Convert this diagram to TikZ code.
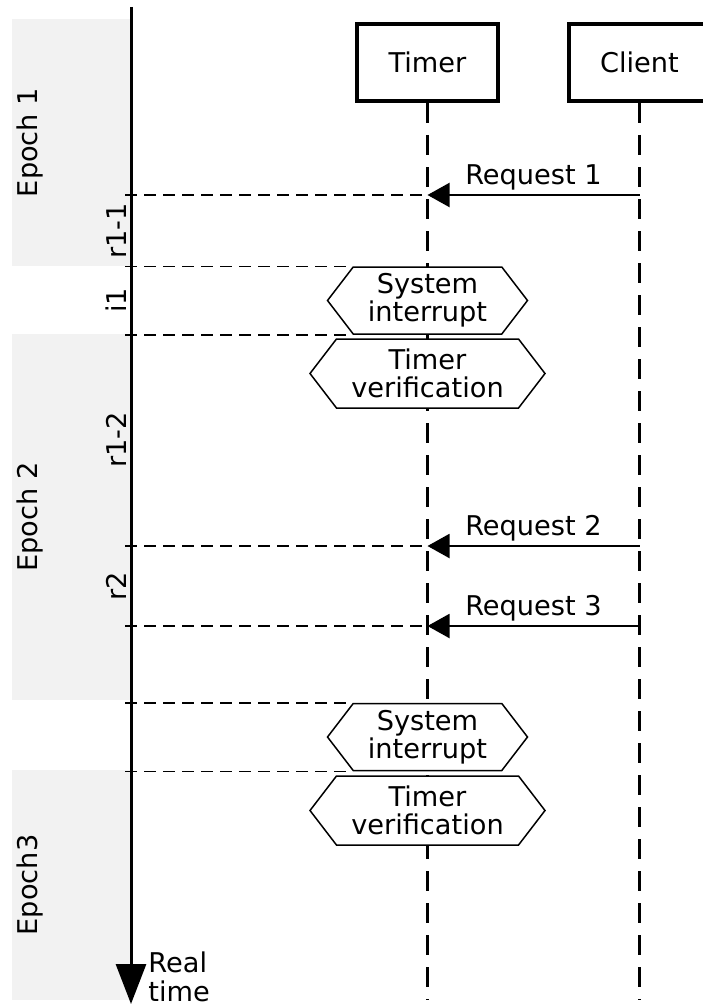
\documentclass[tikz,border=0pt]{standalone}
\usepackage{fontspec}
\setmainfont{DejaVu Sans}
\usetikzlibrary{arrows.meta,shapes.symbols,calc}
\definecolor{bandgray}{RGB}{242,242,242}
\pgfdeclarelayer{back}
\pgfsetlayers{back,main}

\begin{document}
\begin{tikzpicture}[x=0.5pt, y=-0.5pt,
	every node/.style={font=\fontsize{13.6}{14.2}\selectfont},
	actor/.style={draw, line width=2pt, minimum width=70.5pt, minimum height=38.5pt},
	lifeline/.style={line width=1.1pt, dash pattern=on 10pt off 6pt},
	guide/.style={line width=0.75pt, dash pattern=on 6pt off 3.5pt},
	msg/.style={line width=1pt, -{Triangle[length=11pt,width=12pt]}},
	phase/.style={draw, fill=white, line width=0.75pt, signal, signal to=west and east,
		signal pointer angle=105, align=center, inner sep=0pt},
	slot/.style={rotate=90, anchor=south, inner sep=1pt}]
	\useasboundingbox (0,0) rectangle (702,1006);
	% epochs
	\begin{pgfonlayer}{back}
		\foreach \top/\bot/\name/\txt in {19/266/ep1/Epoch 1, 334/700/ep2/Epoch 2, 770/1000/ep3/Epoch3} {
			\fill[bandgray] (12,\top) rectangle (130,\bot);
			\node[rotate=90] (\name) at (30,{(\top+\bot)/2}) {\txt};
		}
	\end{pgfonlayer}
	% real time axis
	\coordinate (axtop) at (131,7);
	\coordinate (axend) at (131,1004);
	\coordinate (gx) at (125,0);
	\coordinate (bottom) at (0,1000);
	\draw[line width=1.5pt, -{Triangle[length=20pt,width=15pt]}] (axtop) -- (axend);
	\node[anchor=west, align=left, inner sep=1pt] (rt) at (146,977) {Real\\time};
	% actors
	\node[actor] (timer) at (427.5,62.5) {Timer};
	\node[actor] (client) at (639.5,62.5) {Client};
	\foreach \a in {timer,client}
		\draw[lifeline] (\a.south) -- (\a |- bottom);
	% requests
	\foreach \y/\n in {195/1, 546/2, 626/3} {
		\coordinate (g\n) at (125,\y);
		\coordinate (t\n) at (timer |- g\n);
		\coordinate (c\n) at (client |- g\n);
		\draw[guide] (g\n) -- (t\n);
		\draw[msg] (c\n) -- node[above, inner sep=2pt] {Request \n} (t\n);
	}
	% interrupts and verifications
	\node[phase, minimum width=100pt, minimum height=33.5pt] (int1) at (427.5,300.5) {System\\interrupt};
	\node[phase, minimum width=117.5pt, minimum height=34.5pt] (ver1) at (427.5,373.5) {Timer\\verification};
	\node[phase, minimum width=100pt, minimum height=33.5pt] (int2) at (427.5,737) {System\\interrupt};
	\node[phase, minimum width=117.5pt, minimum height=34.5pt] (ver2) at (427.5,810.5) {Timer\\verification};
	\begin{pgfonlayer}{back}
		\foreach \n in {int1,int2} {
			\draw[guide] (gx |- \n.north) -- ($(\n.north)+(-74.5,0)$);
			\draw[guide] (gx |- \n.south) -- ($(\n.south)+(-74.5,0)$);
		}
	\end{pgfonlayer}
	% slots
	\node[slot] (s11) at (129,231) {r1-1};
	\node[slot] (si1) at (129,300.5) {i1};
	\node[slot] (s12) at (129,440) {r1-2};
	\node[slot] (s2) at (129,586) {r2};
\end{tikzpicture}
\end{document}
